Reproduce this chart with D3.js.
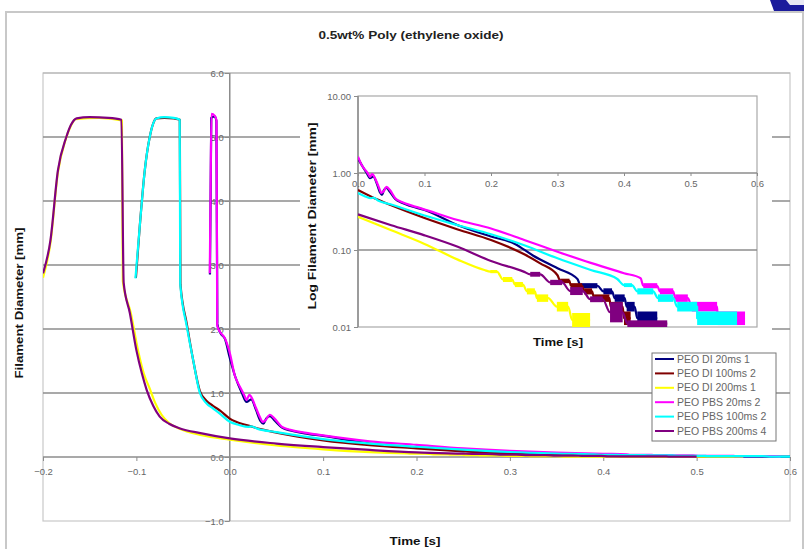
<!DOCTYPE html>
<html><head><meta charset="utf-8">
<script src="https://cdn.jsdelivr.net/npm/d3@7"></script>
<style>
body{margin:0;background:#fff;}
svg text{font-family:"Liberation Sans",Arial,sans-serif;}
</style></head>
<body>
<svg id="c" width="804" height="549"></svg>
<script>
// ---------------- DATA ----------------
const seriesNames = ["PEO DI 20ms 1","PEO DI 100ms 2","PEO DI 200ms 1","PEO PBS 20ms 2","PEO PBS 100ms 2","PEO PBS 200ms 4"];
const seriesColors = ["#000080","#800000","#ffff00","#ff00ff","#00ffff","#800080"];
const xTicksMain = [-0.2,-0.1,0,0.1,0.2,0.3,0.4,0.5,0.6];
const yTicksMain = [-1,0,1,2,3,4,5,6];
const xTicksInset = [0,0.1,0.2,0.3,0.4,0.5,0.6];
const yTicksInset = [0.01,0.1,1,10];

// [time s, diameter mm]
const dataDI20 = [[-0.0212,2.85],[-0.0198,5.3],[-0.016,5.32],[-0.0143,5.25],[-0.0133,2.08],[-0.0105,1.95],[-0.005,1.84],[0,1.55],[0.006,1.25],[0.013,1.0],[0.018,0.86],[0.023,0.9],[0.028,0.74],[0.033,0.56],[0.036,0.52],[0.039,0.6],[0.043,0.64],[0.048,0.57],[0.056,0.46],[0.066,0.41],[0.08,0.37],[0.1,0.33],[0.15,0.21],[0.2,0.15],[0.236,0.12],[0.263,0.085],[0.3,0.058],[0.33,0.042]];
const dataDI100 = [[-0.1005,2.8],[-0.0964,3.6],[-0.091,4.48],[-0.0857,5.0],[-0.082,5.21],[-0.0786,5.29],[-0.07,5.3],[-0.06,5.29],[-0.0535,5.27],[-0.0528,2.7],[-0.046,2.08],[-0.039,1.5],[-0.032,1.03],[-0.025,0.88],[-0.018,0.8],[-0.01,0.72],[0,0.6],[0.02,0.49],[0.05,0.38],[0.1,0.26],[0.15,0.185],[0.2,0.135],[0.25,0.088],[0.274,0.067],[0.3,0.047]];
const dataDI200 = [[-0.2,2.8],[-0.192,3.35],[-0.184,4.45],[-0.176,4.95],[-0.17,5.18],[-0.165,5.28],[-0.14,5.3],[-0.1155,5.26],[-0.1145,2.75],[-0.106,2.25],[-0.098,1.65],[-0.092,1.3],[-0.086,1.08],[-0.08,0.85],[-0.073,0.66],[-0.065,0.53],[-0.055,0.45],[-0.03,0.34],[0,0.27],[0.05,0.18],[0.1,0.12],[0.15,0.075],[0.19,0.055]];
const dataPBS20 = [[-0.0214,2.87],[-0.0205,4.2],[-0.0196,5.36],[-0.016,5.33],[-0.0142,5.26],[-0.0134,2.05],[-0.0107,1.96],[-0.005,1.85],[0,1.63],[0.0055,1.27],[0.009,1.15],[0.013,1.04],[0.016,0.95],[0.018,0.89],[0.021,0.97],[0.023,0.94],[0.028,0.77],[0.033,0.6],[0.035,0.55],[0.038,0.57],[0.043,0.66],[0.048,0.6],[0.056,0.47],[0.066,0.42],[0.08,0.38],[0.096,0.345],[0.15,0.245],[0.2,0.19],[0.25,0.135],[0.3,0.095],[0.35,0.068],[0.4,0.05],[0.425,0.043]];
const dataPBS100 = [[-0.101,2.79],[-0.0964,3.6],[-0.091,4.48],[-0.0857,5.0],[-0.082,5.21],[-0.0786,5.29],[-0.07,5.31],[-0.06,5.3],[-0.0536,5.27],[-0.053,2.7],[-0.046,2.04],[-0.039,1.5],[-0.032,1.0],[-0.025,0.84],[-0.018,0.76],[-0.01,0.67],[0,0.55],[0.01,0.5],[0.02,0.47],[0.023,0.48],[0.03,0.44],[0.05,0.39],[0.1,0.28],[0.15,0.21],[0.2,0.16],[0.25,0.115],[0.3,0.078],[0.35,0.055],[0.39,0.042]];
const dataPBS200 = [[-0.2,2.87],[-0.192,3.39],[-0.184,4.48],[-0.175,5.0],[-0.17,5.19],[-0.164,5.29],[-0.15,5.31],[-0.13,5.3],[-0.116,5.27],[-0.1136,2.72],[-0.107,2.25],[-0.1,1.67],[-0.094,1.3],[-0.089,1.05],[-0.082,0.8],[-0.075,0.63],[-0.065,0.52],[-0.054,0.45],[-0.03,0.37],[0,0.29],[0.05,0.21],[0.1,0.155],[0.15,0.11],[0.2,0.072],[0.25,0.052]];

// quantisation noise bands at the tail: [t start, t end, low mm, high mm]
const bandsDI20 = [[0.335,0.36,0.0318,0.0371],[0.369,0.382,0.0265,0.0318],[0.386,0.401,0.0212,0.0265],[0.404,0.416,0.0159,0.0212],[0.42,0.45,0.0106,0.0159]];
const bandsDI100 = [[0.304,0.318,0.0371,0.0424],[0.32,0.337,0.0318,0.0371],[0.34,0.352,0.0265,0.0318],[0.355,0.378,0.0212,0.0265],[0.38,0.398,0.0159,0.0212],[0.40,0.41,0.0106,0.0159]];
const bandsDI200 = [[0.199,0.209,0.050,0.055],[0.218,0.232,0.0384,0.0446],[0.236,0.248,0.033,0.0384],[0.254,0.266,0.0265,0.0318],[0.269,0.286,0.0212,0.0265],[0.299,0.316,0.0159,0.0212],[0.322,0.349,0.01,0.0152]];
const bandsPBS20 = [[0.429,0.45,0.0318,0.0371],[0.454,0.474,0.0265,0.0318],[0.477,0.496,0.0212,0.0265],[0.502,0.54,0.0159,0.0212],[0.541,0.582,0.0106,0.0159]];
const bandsPBS100 = [[0.40,0.412,0.033,0.0371],[0.42,0.444,0.0265,0.0318],[0.451,0.474,0.0212,0.0265],[0.48,0.51,0.0159,0.0212],[0.51,0.57,0.0106,0.0159]];
const bandsPBS200 = [[0.259,0.274,0.045,0.052],[0.289,0.307,0.035,0.041],[0.319,0.338,0.026,0.033],[0.349,0.368,0.021,0.025],[0.379,0.398,0.0115,0.021],[0.405,0.465,0.01,0.0122]];

// near-zero trailing values (main chart only)
const tailDI20 = [[0.46,0.006],[0.6,0.005]];
const tailDI100 = [[0.42,0.006],[0.5,0.005]];
const tailDI200 = [[0.36,0.006],[0.55,0.004]];
const tailPBS20 = [[0.59,0.006]];
const tailPBS100 = [[0.58,0.006],[0.6,0.005]];
const tailPBS200 = [[0.47,0.006],[0.5,0.005]];

const allData = [dataDI20,dataDI100,dataDI200,dataPBS20,dataPBS100,dataPBS200];
const allBands = [bandsDI20,bandsDI100,bandsDI200,bandsPBS20,bandsPBS100,bandsPBS200];
const allTails = [tailDI20,tailDI100,tailDI200,tailPBS20,tailPBS100,tailPBS200];

// ---------------- DRAW ----------------
const svg = d3.select("#c");
const FONT = '"Liberation Sans",Arial,sans-serif';

// outer chart border
svg.append("rect").attr("x",6).attr("y",12).attr("width",797).attr("height",538)
  .attr("fill","#fff").attr("stroke","#c8c8c8").attr("stroke-width",2);
// corner logo
svg.append("path").attr("d","M770,0H804V11H774Z").attr("fill","#1b1b9c");
svg.append("path").attr("d","M786,0H804V5H790Z").attr("fill","#e8e8f4");

const xM = d3.scaleLinear().domain([-0.2,0.6]).range([43,790]);
const yM = d3.scaleLinear().domain([-1,6]).range([521,73]);

// title
svg.append("text").attr("x",411).attr("y",39).attr("text-anchor","middle")
  .attr("font-size",11.5).attr("font-weight","bold").attr("fill","#222")
  .attr("textLength",185).attr("lengthAdjust","spacingAndGlyphs")
  .text("0.5wt% Poly (ethylene oxide)");

// plot area
svg.append("rect").attr("x",xM(-0.2)).attr("y",yM(6)).attr("width",xM(0.6)-xM(-0.2)).attr("height",yM(-1)-yM(6))
  .attr("fill","none").attr("stroke","#c8c8c8").attr("stroke-width",1.2);
svg.append("g").selectAll("line").data(yTicksMain.filter(v=>v>0&&v<6)).join("line")
  .attr("x1",xM(-0.2)).attr("x2",xM(0.6)).attr("y1",d=>yM(d)).attr("y2",d=>yM(d))
  .attr("stroke","#8c8c8c").attr("stroke-width",1.5);
svg.append("line").attr("x1",xM(-0.2)).attr("x2",xM(0.6)).attr("y1",yM(6)).attr("y2",yM(6))
  .attr("stroke","#b0b0b0").attr("stroke-width",1.2);

const yAxisM = svg.append("g").attr("transform",`translate(${xM(0)},0)`)
  .call(d3.axisLeft(yM).tickValues(yTicksMain).tickFormat(d3.format(".1f")).tickSize(5).tickPadding(1));
const xAxisM = svg.append("g").attr("transform",`translate(0,${yM(0)})`)
  .call(d3.axisBottom(xM).tickValues(xTicksMain).tickFormat(d3.format(".1f")).tickSize(4).tickPadding(7));
[yAxisM,xAxisM].forEach(a=>{
  a.select(".domain").attr("stroke","#8c8c8c").attr("stroke-width",1.5);
  a.selectAll(".tick line").attr("stroke","#8c8c8c");
  a.selectAll("text").attr("font-size",9.5).attr("fill","#666").attr("font-family",FONT);
});
xAxisM.select(".domain").attr("d",`M${xM(-0.2)},0H${xM(0.6)}`);
yAxisM.select(".domain").attr("d",`M0,${yM(-1)}V${yM(6)}`);

svg.append("text").attr("transform",`translate(23,${303}) rotate(-90)`).attr("text-anchor","middle")
  .attr("font-size",11).attr("font-weight","bold").attr("fill","#111")
  .attr("textLength",151).attr("lengthAdjust","spacingAndGlyphs").text("Filament Diameter [mm]");
svg.append("text").attr("x",415).attr("y",545).attr("text-anchor","middle")
  .attr("font-size",11.5).attr("font-weight","bold").attr("fill","#111")
  .attr("textLength",51).attr("lengthAdjust","spacingAndGlyphs").text("Time [s]");

svg.append("clipPath").attr("id","clipM").append("rect")
  .attr("x",xM(-0.2)).attr("y",yM(6)-6).attr("width",xM(0.6)-xM(-0.2)).attr("height",yM(-1)-yM(6)+6);

function fullSeries(i){
  const pts = allData[i].slice();
  allBands[i].forEach(b=>{ const m=(b[2]+b[3])/2; pts.push([b[0],m]); pts.push([b[1],m]); });
  return pts.concat(allTails[i]);
}
const lineM = d3.line().curve(d3.curveMonotoneX).x(d=>xM(d[0])).y(d=>yM(d[1]));
const gM = svg.append("g").attr("clip-path","url(#clipM)");
allData.forEach((d,i)=>{
  gM.append("path").attr("d",lineM(fullSeries(i))).attr("fill","none")
    .attr("stroke",seriesColors[i]).attr("stroke-width",2.2).attr("stroke-linejoin","round");
});

// ---------------- INSET ----------------
svg.append("rect").attr("x",300).attr("y",84).attr("width",472).attr("height",266).attr("fill","#fff");
const xI = d3.scaleLinear().domain([0,0.6]).range([358,757]);
const yI = d3.scaleLog().domain([0.01,10]).range([327,96]);

svg.append("rect").attr("x",xI(0)).attr("y",yI(10)).attr("width",xI(0.6)-xI(0)).attr("height",yI(0.01)-yI(10))
  .attr("fill","none").attr("stroke","#a8a8a8").attr("stroke-width",1.2);
svg.append("line").attr("x1",xI(0)).attr("x2",xI(0.6)).attr("y1",yI(0.1)).attr("y2",yI(0.1))
  .attr("stroke","#8c8c8c").attr("stroke-width",1.5);

const yAxisI = svg.append("g").attr("transform",`translate(${xI(0)},0)`)
  .call(d3.axisLeft(yI).tickValues(yTicksInset).tickFormat(d3.format(".2f")).tickSize(4).tickPadding(3));
const xAxisI = svg.append("g").attr("transform",`translate(0,${yI(1)})`)
  .call(d3.axisBottom(xI).tickValues(xTicksInset).tickFormat(d3.format(".1f")).tickSize(3).tickPadding(4));
[yAxisI,xAxisI].forEach(a=>{
  a.select(".domain").attr("stroke","#8c8c8c").attr("stroke-width",1.5);
  a.selectAll(".tick line").attr("stroke","#8c8c8c");
  a.selectAll("text").attr("font-size",9.5).attr("fill","#666").attr("font-family",FONT);
});
xAxisI.select(".domain").attr("d",`M${xI(0)},0H${xI(0.6)}`);
yAxisI.select(".domain").attr("d",`M0,${yI(0.01)}V${yI(10)}`);

svg.append("text").attr("transform",`translate(316,${216}) rotate(-90)`).attr("text-anchor","middle")
  .attr("font-size",11).attr("font-weight","bold").attr("fill","#111")
  .attr("textLength",187).attr("lengthAdjust","spacingAndGlyphs").text("Log Filament Diameter [mm]");
svg.append("text").attr("x",558).attr("y",346).attr("text-anchor","middle")
  .attr("font-size",11.5).attr("font-weight","bold").attr("fill","#111")
  .attr("textLength",50).attr("lengthAdjust","spacingAndGlyphs").text("Time [s]");

svg.append("clipPath").attr("id","clipI").append("rect")
  .attr("x",xI(0)).attr("y",yI(10)).attr("width",xI(0.6)-xI(0)).attr("height",yI(0.01)-yI(10));
const lineI = d3.line().curve(d3.curveMonotoneX).x(d=>xI(d[0])).y(d=>yI(d[1]));
const gI = svg.append("g").attr("clip-path","url(#clipI)");
allData.forEach((d,i)=>{
  const pts = allData[i].slice();
  allBands[i].forEach(b=>{ const m=Math.sqrt(b[2]*b[3]); pts.push([b[0],m]); pts.push([b[1],m]); });
  const vis = pts.filter(p=>p[0]>=0 && p[1]>=0.01);
  gI.append("path").attr("d",lineI(vis)).attr("fill","none")
    .attr("stroke",seriesColors[i]).attr("stroke-width",2.2).attr("stroke-linejoin","round");
  gI.selectAll(null).data(allBands[i]).join("rect")
    .attr("x",b=>xI(b[0])).attr("width",b=>xI(b[1])-xI(b[0]))
    .attr("y",b=>yI(b[3])).attr("height",b=>yI(b[2])-yI(b[3]))
    .attr("fill",seriesColors[i]);
});

// ---------------- LEGEND ----------------
const lg = svg.append("g").attr("transform","translate(652,353)");
lg.append("rect").attr("width",124).attr("height",88).attr("fill","#fff").attr("stroke","#777").attr("stroke-width",1);
seriesNames.forEach((n,i)=>{
  const y = 6 + i*14.4;
  lg.append("line").attr("x1",3).attr("x2",22).attr("y1",y).attr("y2",y)
    .attr("stroke",seriesColors[i]).attr("stroke-width",2);
  lg.append("text").attr("x",25).attr("y",y+3.5).attr("font-size",10.5).attr("fill","#666").text(n);
});
</script>
</body></html>
